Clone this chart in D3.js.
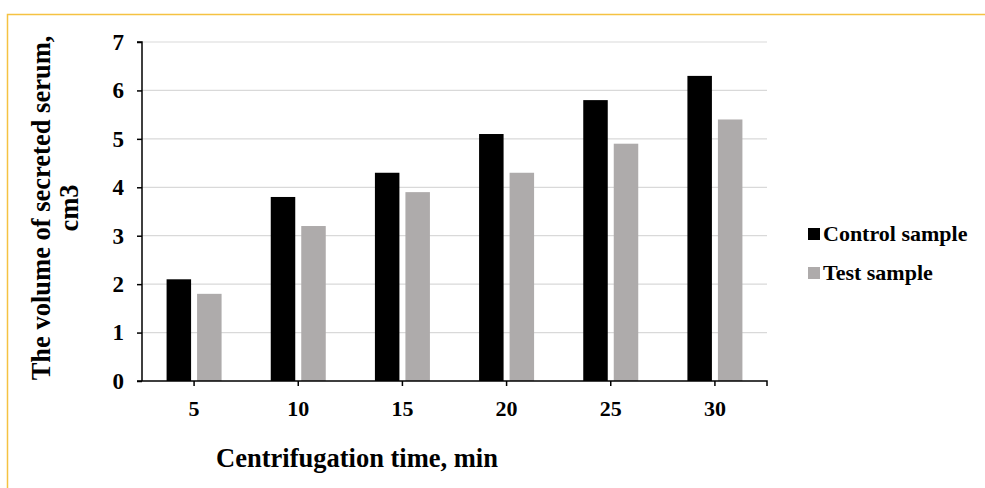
<!DOCTYPE html>
<html><head><meta charset="utf-8">
<script src="https://cdn.jsdelivr.net/npm/d3@7"></script>
<style>body{margin:0;background:#fff}svg{display:block}text{font-family:"Liberation Serif","Times New Roman",serif;font-weight:bold}</style>
</head><body>
<script>
const categories = ["5","10","15","20","25","30"];
const control = [2.1,3.8,4.3,5.1,5.8,6.3];
const test = [1.8,3.2,3.9,4.3,4.9,5.4];
const yTicks = [0,1,2,3,4,5,6,7];
const seriesNames = ["Control sample","Test sample"];
const colors = ["#000000","#AEABAB"];

const W=985,H=488;
const svg=d3.select("body").append("svg").attr("width",W).attr("height",H);
// border
svg.append("path").attr("d",`M7.5,${H} L7.5,14.5 L${W},14.5`).attr("fill","none").attr("stroke","#F5C242").attr("stroke-width",1.5);

const x0=142,x1=767,yb=381,yt=42;
const x=d3.scaleBand().domain(categories).range([x0,x1]);
const y=d3.scaleLinear().domain([0,7]).range([yb,yt]);
// grid
svg.append("g").selectAll("line").data(yTicks.filter(d=>d>0)).join("line")
 .attr("x1",x0).attr("x2",x1).attr("y1",d=>y(d)).attr("y2",d=>y(d)).attr("stroke","#D9D9D9").attr("stroke-width",1.2);
const bw=24.5,gap=6;
const data=[control,test];
data.forEach((s,si)=>{
  svg.append("g").selectAll("rect").data(s).join("rect")
   .attr("x",(d,i)=>x(categories[i])+x.bandwidth()/2+(si===0?-gap/2-bw:gap/2))
   .attr("width",bw).attr("y",d=>y(d)).attr("height",d=>yb-y(d)).attr("fill",colors[si]);
});
// y axis
const ya=svg.append("g").attr("transform",`translate(${x0},0)`).call(d3.axisLeft(y).tickValues(yTicks).tickSize(5).tickPadding(13).tickFormat(d3.format("d")));
ya.select(".domain").attr("stroke","#000").attr("stroke-width",1.5).attr("d",`M-5,${yt}H0V${yb}`);
ya.selectAll(".tick line").attr("stroke-width",1.5);
ya.selectAll("text").attr("font-size",23).attr("font-family","Liberation Serif").attr("font-weight","bold").attr("fill","#000");
// x axis
const xa=svg.append("g").attr("transform",`translate(0,${yb})`).call(d3.axisBottom(x).tickSize(5).tickPadding(14));
xa.select(".domain").attr("stroke","#000").attr("stroke-width",1.5).attr("d",`M${x0-5},0H${x1}V5`);
xa.selectAll(".tick line").attr("stroke-width",1.5);
xa.selectAll("text").attr("font-size",22).attr("font-family","Liberation Serif").attr("font-weight","bold").attr("fill","#000");
// titles
svg.append("text").attr("x",357).attr("y",467).attr("text-anchor","middle").attr("font-size",26.5).text("Centrifugation time, min");
const yt1=svg.append("text").attr("transform","translate(50,208) rotate(-90)").attr("text-anchor","middle").attr("font-size",26.5);
yt1.append("tspan").attr("x",0).attr("dy",0).text("The volume of secreted serum,");
yt1.append("tspan").attr("x",0).attr("dy",28).text("cm3");
// legend
seriesNames.forEach((n,i)=>{
  const ly=234+i*39;
  svg.append("rect").attr("x",808).attr("y",ly-6).attr("width",12).attr("height",12).attr("fill",colors[i]);
  svg.append("text").attr("x",823).attr("y",ly+7).attr("font-size",22).text(n);
});
</script>
</body></html>
